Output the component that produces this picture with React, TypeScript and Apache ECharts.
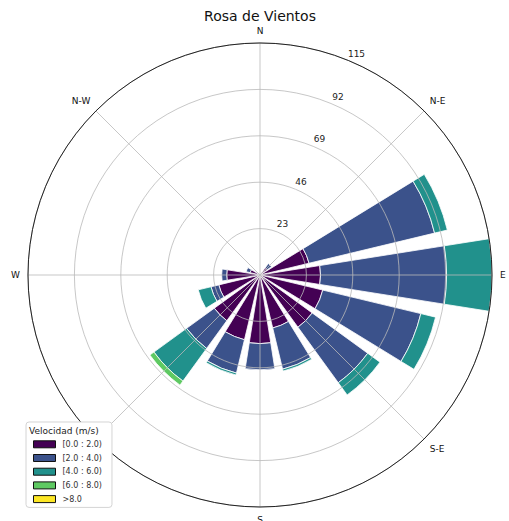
import React, { useEffect, useRef } from 'react';
import * as echarts from 'echarts';

// 16 compass sectors, clockwise from North
const directions = ['N', 'NNE', 'NE', 'ENE', 'E', 'ESE', 'SE', 'SSE', 'S', 'SSW', 'SW', 'WSW', 'W', 'WNW', 'NW', 'NNW'];
const speedBins = ['[0.0 : 2.0)', '[2.0 : 4.0)', '[4.0 : 6.0)', '[6.0 : 8.0)', '>8.0'];
const binColors = ['#440154', '#3b528b', '#21918c', '#5ec962', '#fde725'];

// frequency per sector for each speed bin (stacked)
const bin0to2 = [0, 0, 4.5, 25, 30, 32, 32, 27, 34, 33, 28, 21, 16.5, 5, 0, 0];
const bin2to4 = [0, 0, 2.5, 64, 62.5, 50, 34, 21, 13, 17, 17, 4, 2.5, 2, 0, 0];
const bin4to6 = [0, 0, 0, 6.5, 22.5, 7.5, 7.5, 1, 0, 1, 20, 6.5, 0, 0, 0, 0];
const bin6to8 = [0, 0, 0, 0, 0, 0, 0, 0, 0, 0, 2.5, 0, 0, 0, 0, 0];
const bin8up = [0, 0, 0, 0, 0, 0, 0, 0, 0, 0, 0, 0, 0, 0, 0, 0];

const radiusMax = 115;
const radiusStep = 23;
// compass labels shown on the rim (S-W sits under the legend in the reference)
const compassLabels: Record<number, string> = {
  0: 'N', 45: 'N-E', 90: 'E', 135: 'S-E', 180: 'S', 270: 'W', 315: 'N-W',
};

const FONT = 'DejaVu Sans';

export default function App() {
  const ref = useRef<HTMLDivElement>(null);
  useEffect(() => {
    if (!ref.current) return;
    const chart = echarts.init(ref.current, undefined, { renderer: 'svg' });
    const bins = [bin0to2, bin2to4, bin4to6, bin6to8, bin8up];
    const center = [260, 275];
    const R = 232;
    const gridColor = 'rgba(185,185,185,0.8)';
    const option: any = {
      animation: false,
      backgroundColor: '#ffffff',
      textStyle: { fontFamily: FONT },
      title: [
        {
          text: 'Rosa de Vientos', left: 260, top: 9, textAlign: 'center', padding: 0,
          textStyle: { fontFamily: FONT, fontSize: 14, fontWeight: 'normal', color: '#111' },
        },
        {
          text: 'Velocidad (m/s)', left: 29, top: 426, padding: 0, z: 20,
          textStyle: { fontFamily: FONT, fontSize: 9, fontWeight: 'normal', color: '#222' },
        },
      ],
      legend: {
        orient: 'vertical', left: 26, top: 422, z: 10,
        data: speedBins,
        icon: 'rect',
        itemWidth: 22, itemHeight: 7, itemGap: 3.7,
        padding: [17.3, 10, 3.3, 7],
        backgroundColor: '#ffffff', borderColor: '#d4d4d4', borderWidth: 1, borderRadius: 3,
        itemStyle: { borderColor: '#111', borderWidth: 1 },
        textStyle: { fontFamily: FONT, fontSize: 8, lineHeight: 10, color: '#333', padding: [0, 0, 0, 2] },
        selectedMode: false,
      },
      polar: [
        { center, radius: R },
        { center, radius: R },
        { center, radius: R },
      ],
      angleAxis: [
        { polarIndex: 0, type: 'category', data: directions, startAngle: 101.25, clockwise: true, show: false },
        {
          polarIndex: 1, type: 'value', min: 0, max: 360, interval: 45, startAngle: 90, clockwise: true, z: 5,
          axisLine: { show: true, lineStyle: { color: '#222', width: 1 } },
          axisTick: { show: false },
          axisLabel: {
            show: true, margin: 8, fontFamily: FONT, fontSize: 9, color: '#111',
            formatter: (v: number) => compassLabels[v] ?? '',
          },
          splitLine: { show: true, lineStyle: { color: gridColor, width: 1 } },
        },
        { polarIndex: 2, type: 'value', min: 0, max: 360, startAngle: 66.5, clockwise: true, show: false },
      ],
      radiusAxis: [
        { polarIndex: 0, type: 'value', min: 0, max: radiusMax, show: false },
        {
          polarIndex: 1, type: 'value', min: 0, max: radiusMax, interval: radiusStep, z: 5,
          axisLine: { show: false }, axisTick: { show: false }, axisLabel: { show: false },
          splitLine: { show: true, lineStyle: { color: gridColor, width: 1 } },
        },
        {
          polarIndex: 2, type: 'value', min: 0, max: radiusMax, interval: radiusStep, z: 6,
          axisLine: { show: false }, axisTick: { show: false }, splitLine: { show: false },
          axisLabel: {
            show: true, margin: 0, fontFamily: FONT, fontSize: 9, color: '#222',
            align: 'center', verticalAlign: 'bottom', lineHeight: 16, padding: [0, 0, 0, 8],
            formatter: (v: number) => (v === 0 ? '' : String(v)),
          },
        },
      ],
      series: speedBins.map((name, i) => ({
        type: 'bar',
        name,
        coordinateSystem: 'polar',
        polarIndex: 0,
        stack: 'total',
        barCategoryGap: '20%',
        itemStyle: { color: binColors[i], borderColor: '#ffffff', borderWidth: 0.8 },
        data: bins[i].map((v) => (v === 0 ? '-' : v)),
      })),
    };
    chart.setOption(option);
    return () => chart.dispose();
  }, []);
  return <div ref={ref} style={{ position: 'absolute', left: 0, top: 0, width: 509, height: 521 }} />;
}
